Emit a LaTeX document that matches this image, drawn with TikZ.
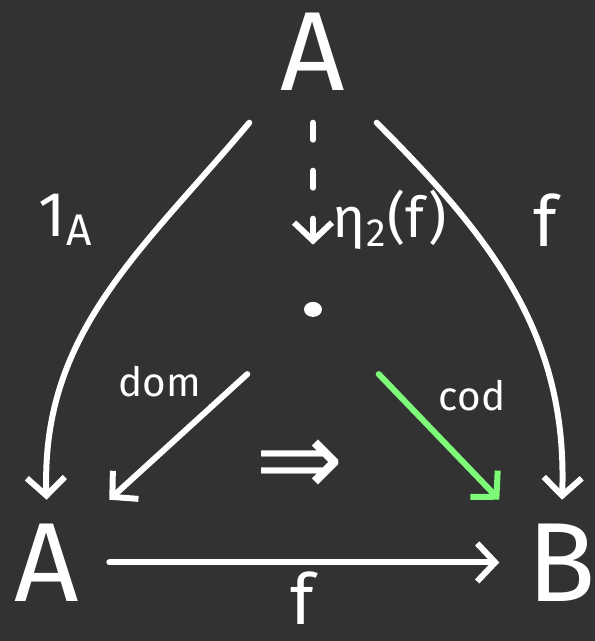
\documentclass[tikz,border=0pt]{standalone}
\usepackage{fontspec}
\setmainfont{Fira Sans}
\newfontfamily\symfont{DejaVu Sans}
\usetikzlibrary{arrows.meta,positioning}
\definecolor{board}{RGB}{50,50,50}
\definecolor{chalkgreen}{RGB}{125,250,120}

\begin{document}
\begin{tikzpicture}[
    node distance=1cm,
    every node/.style={text=white, inner sep=0pt},
    obj/.style={minimum width=1.24cm, minimum height=1.24cm, font=\fontsize{32}{32}\selectfont},
    lbl/.style={font=\fontsize{20}{20}\selectfont},
    small/.style={font=\fontsize{11.5}{11.5}\selectfont},
    arrow/.style={-{Straight Barb[length=1.8mm, width=3.8mm]}, line width=1.7pt, line cap=round, draw=white}
]
\fill[board] (0,0) rectangle (5.95,-6.41);
\useasboundingbox (0,0) rectangle (5.95,-6.41);
% objects
\node[obj, minimum width=1.26cm, minimum height=1.40cm] (a) at (3.13,-0.52) {A};
\node[obj] (l) [below left=3.77cm and 1.40cm of a] {A};
\node[obj] (r) [right=3.90cm of l] {B};
\node[minimum width=1.30cm, minimum height=1.28cm,
      path picture={\fill[white] (path picture bounding box.center) ellipse (0.09 and 0.075);}] (m) [below=1.22cm of a] {};
% arrows
\draw[arrow] (a.south west) to[out=-130, in=92] (l.north);
\draw[arrow] (a.south east) to[out=-45, in=88] (r.north);
\draw[arrow, dash pattern=on 0.17cm off 0.31cm] (a.south) -- (m.north);
\draw[arrow] (m.south west) -- (l.north east);
\draw[arrow, draw=chalkgreen] (m.south east) -- (r.north west);
\draw[arrow] (l.east) -- (r.west);
% labels
\node[font=\fontsize{18}{18}\selectfont] (ida) at (0.66,-2.20) {1\textsubscript{A}};
\node[font=\fontsize{16}{16}\selectfont] (eta) at (3.90,-2.20) {η\textsubscript{2}(f)};
\node[lbl] (fr) at (5.45,-2.20) {f};
\node[small] (dom) at (1.60,-3.82) {dom};
\node[small] (cod) at (4.72,-3.96) {cod};
\node[font=\symfont\fontsize{30}{30}\selectfont] (imp) at (3.00,-4.68) {⇒};
\node[lbl] (fb) at (3.02,-5.98) {f};
\end{tikzpicture}
\end{document}
